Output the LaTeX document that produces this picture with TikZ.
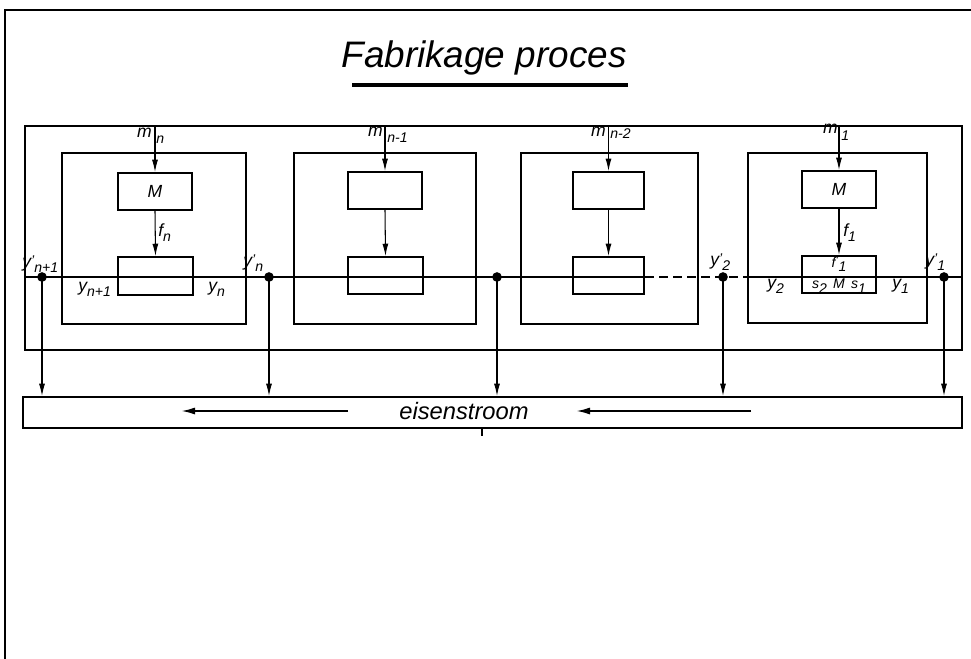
\documentclass[tikz,border=0pt]{standalone}
\usepackage{fontspec}
\setmainfont{Liberation Sans}
\usetikzlibrary{fit,arrows.meta}
\newcommand\lsub[1]{\raisebox{-0.6ex}{\fontsize{8}{9}\selectfont #1}}
\newcommand\lpr{\raisebox{0.2ex}{\fontsize{8}{9}\selectfont '}}
\tikzset{
  box/.style={draw, line width=1.1pt, inner sep=0pt},
  thinline/.style={line width=0.6pt},
  arr/.style={thinline, -{Latex[length=7pt,width=3.4pt]}},
  bigarr/.style={line width=1.1pt, -{Latex[length=8pt,width=4pt]}},
  lab/.style={font=\fontsize{10}{12}\selectfont\itshape, inner sep=0pt, anchor=base west},
  sublab/.style={font=\fontsize{8}{9}\selectfont\itshape, inner sep=0pt, anchor=base west},
  smlab/.style={font=\fontsize{8}{9}\selectfont\itshape, inner sep=0pt},
  dot/.style={circle, fill, inner sep=0pt, minimum size=5.5pt},
}
\begin{document}
\begin{tikzpicture}[x=0.02cm,y=-0.02cm]
\useasboundingbox (0,0) rectangle (971,659);
% frame
\coordinate (ftl) at (5,10);
\coordinate (ftr) at (971,10);
\coordinate (fbl) at (5,659);
\draw[line width=1.3pt] (ftr) -- (ftl) -- (fbl);
% title
\node[font=\fontsize{21}{25}\selectfont\itshape, inner sep=0pt] (title) at (484,58) {Fabrikage proces};
\coordinate (ul1) at (352,85);
\coordinate (ul2) at (628,85);
\draw[line width=2.3pt] (ul1) -- (ul2);
% big boxes
\node[box, fit={(25,126)(962,350)}] (big) {};
\node[box, fit={(23,397)(962,428)}] (eisen) {};
% modules
\node[box, fit={(62,153)(246,324)}] (out1) {};
\node[box, fit={(118,173)(192,210)}] (top1) {};
\node[box, fit={(118,257)(193,295)}] (low1) {};
\node[box, fit={(294,153)(476,324)}] (out2) {};
\node[box, fit={(348,172)(422,209)}] (top2) {};
\node[box, fit={(348,257)(423,294)}] (low2) {};
\node[box, fit={(521,153)(698,324)}] (out3) {};
\node[box, fit={(573,172)(644,209)}] (top3) {};
\node[box, fit={(573,257)(644,294)}] (low3) {};
\node[box, fit={(748,153)(927,323)}] (out4) {};
\node[box, fit={(802,171)(876,208)}] (top4) {};
\node[box, fit={(802,256)(876,293)}] (low4) {};
\node[smlab, font=\fontsize{10}{12}\selectfont\itshape] (mm1) at (top1.center) {M};
\node[smlab, font=\fontsize{10}{12}\selectfont\itshape] (mm4) at (top4.center) {M};
% vertical arrows in modules
\foreach \i in {1,2,3,4}{
  \draw[arr] (big.north -| top\i.north) -- (top\i.north);
  \draw[arr] (top\i.south) -- (low\i.north);
}
% horizontal line and dots
\node[dot] (d1) at (42,277) {};
\node[dot] (d2) at (269,277) {};
\node[dot] (d3) at (497,277) {};
\node[dot] (d4) at (723,277) {};
\node[dot] (d5) at (944,277) {};
\draw[thinline] (big.west |- d1.center) -- (d1.center) -- (d2.center) -- (d3.center) -- (low3.east |- d3.center);
\draw[thinline, dash pattern=on 5pt off 3pt] (low3.east |- d3.center) -- (out4.west |- d4.center);
\draw[thinline] (out4.west |- d4.center) -- (d5.center) -- (big.east |- d5.center);
\foreach \i in {1,...,5}{
  \draw[arr] (d\i.center) -- (d\i.center |- eisen.north);
}
% eisenstroom
\node[font=\fontsize{13.5}{15}\selectfont\itshape, inner sep=0pt] (eis) at (464,411) {eisenstroom};
\coordinate (a1s) at (348,411);
\coordinate (a1e) at (181,411);
\coordinate (a2s) at (751,411);
\coordinate (a2e) at (576,411);
\draw[bigarr] (a1s) -- (a1e);
\draw[bigarr] (a2s) -- (a2e);
\coordinate (tk) at (482,436);
\draw[thinline] (eisen.south -| tk) -- (tk);
% m labels: letter left of arrow, index right of arrow
\node[lab, anchor=base east] (lmn) at (152,137) {m};
\node[sublab] (lmns) at (156,143) {n};
\node[lab, anchor=base east] (lmn1) at (383,136) {m};
\node[sublab] (lmn1s) at (387,142) {n-1};
\node[lab, anchor=base east] (lmn2) at (606,136) {m};
\node[sublab] (lmn2s) at (610,138) {n-2};
\node[lab, anchor=base east] (lm1) at (838,133) {m};
\node[sublab] (lm1s) at (841,140) {1};
% f labels
\node[lab] (lfn) at (158,236) {f\lsub{n}};
\node[lab] (lf1) at (843,236) {f\lsub{1}};
% y labels
\node[lab] (lypn1) at (22,267) {y\lpr\lsub{n+1}};
\node[lab] (lypn) at (243,266) {y\lpr\lsub{n}};
\node[lab] (lyn1) at (78,291) {y\lsub{n+1}};
\node[lab] (lyn) at (208,291) {y\lsub{n}};
\node[lab] (lyp2) at (710,265) {y\lpr\lsub{2}};
\node[lab] (lyp1) at (925,265) {y\lpr\lsub{1}};
\node[lab] (ly2) at (767,288) {y\lsub{2}};
\node[lab] (ly1) at (892,288) {y\lsub{1}};
% inside last lower box
\node[smlab] (lfp1) at (839,264) {f\lpr\lsub{1}};
\node[smlab] (lsms) at (839,286) {s\lsub{2}\, M\, s\lsub{1}};
\end{tikzpicture}
\end{document}
